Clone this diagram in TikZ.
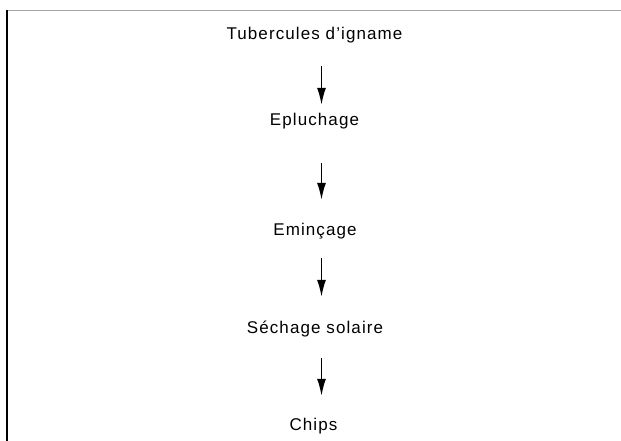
\documentclass[tikz,border=0pt]{standalone}
\usepackage{fontspec}
\setmainfont{Liberation Sans}[LetterSpace=6.5]
\usetikzlibrary{arrows.meta}
\tikzset{
  stepname/.style={font=\fontsize{17}{19}\selectfont, inner sep=0pt, text height=12pt, text depth=4pt, anchor=base},
  flowarrow/.style={line width=1.5pt, -{Latex[length=17pt,width=9pt]}}
}
\begin{document}
\begin{tikzpicture}[x=1pt,y=-1pt]
\useasboundingbox (0,0) rectangle (621,441);
\fill[white] (0,0) rectangle (621,441);
% frame
\draw[gray!70, line width=1pt] (6,10.5) -- (621,10.5);
\draw[black, line width=1.3pt] (7,10) -- (7,441);
% steps
\node[stepname] (t1) at (314.5,40) {Tubercules d'igname};
\node[stepname] (t2) at (314.5,126) {Epluchage};
\node[stepname] (t3) at (315,235) {Eminçage};
\node[stepname] (t4) at (315,333) {Séchage solaire};
\node[stepname] (t5) at (313.5,430) {Chips};
\coordinate (ax) at (321.5,0);
% arrows
\draw[flowarrow, shorten <=22pt, shorten >=9pt] (t1.south -| ax) -- (t2.north -| ax);
\draw[flowarrow, shorten <=33pt, shorten >=23pt] (t2.south -| ax) -- (t3.north -| ax);
\draw[flowarrow, shorten <=19pt, shorten >=24pt] (t3.south -| ax) -- (t4.north -| ax);
\draw[flowarrow, shorten <=21pt, shorten >=22pt] (t4.south -| ax) -- (t5.north -| ax);
\end{tikzpicture}
\end{document}
